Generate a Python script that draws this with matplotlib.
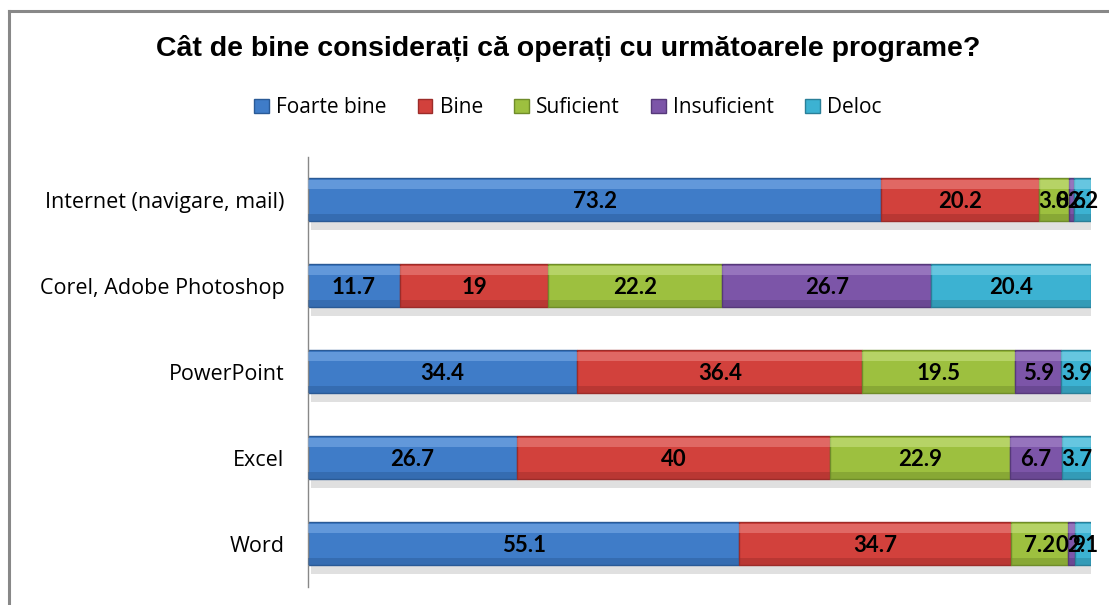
import matplotlib
matplotlib.use("Agg")
import matplotlib.pyplot as plt
from matplotlib.patches import Patch
from matplotlib.lines import Line2D

# Survey data: share (%) per level, one row per program
programs = ["Internet (navigare, mail)", "Corel, Adobe Photoshop", "PowerPoint", "Excel", "Word"]
levels = ["Foarte bine", "Bine", "Suficient", "Insuficient", "Deloc"]
foarte_bine = [73.2, 11.7, 34.4, 26.7, 55.1]
bine = [20.2, 19, 36.4, 40, 34.7]
suficient = [3.8, 22.2, 19.5, 22.9, 7.2]
insuficient = [0.6, 26.7, 5.9, 6.7, 0.9]
deloc = [2.2, 20.4, 3.9, 3.7, 2.1]
series = [foarte_bine, bine, suficient, insuficient, deloc]

colors = ["#3f7cc8", "#d2413c", "#9dc03f", "#7c55a8", "#3cb2d2"]
dark = ["#2a5a96", "#9c2c29", "#6f8c2a", "#56397a", "#2a7f98"]
light = ["#7fb0ea", "#ec8a86", "#cbe388", "#ad8fd0", "#8ad8ec"]

fig = plt.figure(figsize=(11.09, 6.05), dpi=100)
ax = fig.add_axes([0.2777, 0.0298, 0.7061, 0.7107])

h = 0.5
ypos = list(range(len(programs)))

# soft shadow under each full bar
totals = [sum(s[i] for s in series) for i in ypos]
ax.barh([y + 0.1 for y in ypos], totals, height=h, color="#000000", alpha=0.12,
        left=0.4, zorder=1, linewidth=0)

left = [0.0] * len(programs)
for k, vals in enumerate(series):
    ax.barh(ypos, vals, left=left, height=h, color=colors[k], edgecolor=dark[k],
            linewidth=1.0, zorder=2)
    # bevel highlight on top, darker band at bottom
    ax.barh([y - h * 0.36 for y in ypos], vals, left=left, height=h * 0.22,
            color=light[k], alpha=0.55, linewidth=0, zorder=3)
    ax.barh([y + h * 0.40 for y in ypos], vals, left=left, height=h * 0.16,
            color=dark[k], alpha=0.45, linewidth=0, zorder=3)
    for i, v in enumerate(vals):
        ax.text(left[i] + v / 2, ypos[i] + 0.02, f"{v:g}", ha="center", va="center",
                fontsize=16, fontweight="bold", family="Lato", color="black", zorder=5)
    left = [l + v for l, v in zip(left, vals)]

ax.set_xlim(0, 100)
ax.set_ylim(4.5, -0.5)
ax.set_yticks(ypos)
ax.set_yticklabels(programs, fontsize=15.5, family="Open Sans")
ax.tick_params(axis="y", length=0, pad=17)
ax.set_xticks([])
for side in ["top", "right", "bottom"]:
    ax.spines[side].set_visible(False)
ax.spines["left"].set_color("#888888")
ax.spines["left"].set_linewidth(1.0)

fig.text(0.512, 1 - 48 / 605, "Cât de bine considerați că operați cu următoarele programe?",
         ha="center", va="center", fontsize=20.5, fontweight="bold", family="Liberation Sans")

handles = [Patch(facecolor=c, edgecolor=d) for c, d in zip(colors, dark)]
fig.legend(handles, levels, loc="center", bbox_to_anchor=(0.512, 1 - 108 / 605), ncol=5,
           frameon=False, handlelength=0.7, handleheight=0.7,
           handletextpad=0.35, columnspacing=1.5, prop={"family": "Open Sans", "size": 15})

# chart border (top and left edges visible)
fig.add_artist(Line2D([8.5 / 1109, 1.0], [1 - 10.5 / 605] * 2, color="#888888", lw=2.2))
fig.add_artist(Line2D([8.5 / 1109] * 2, [0.0, 1 - 10.5 / 605], color="#888888", lw=2.2))

fig.savefig("out.png", dpi=100)
